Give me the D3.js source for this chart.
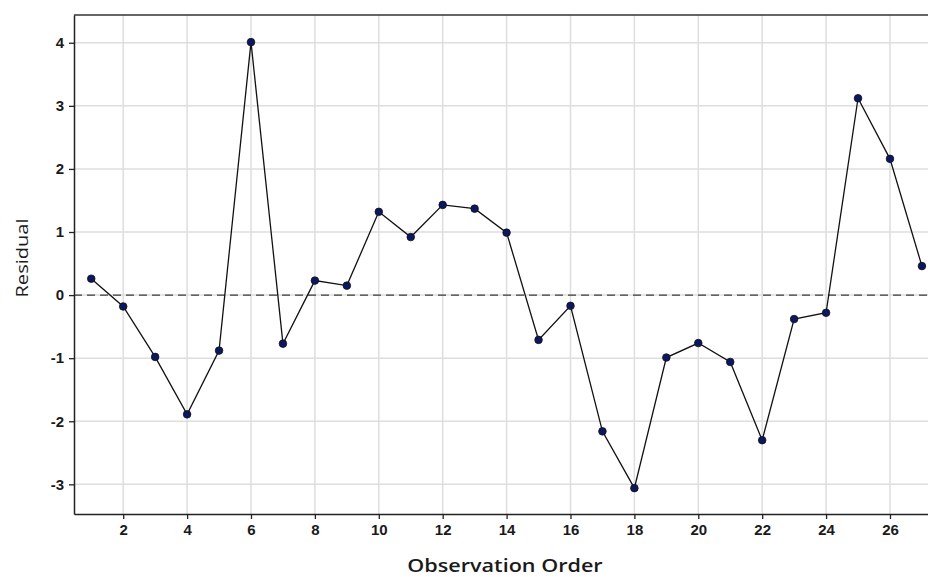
<!DOCTYPE html>
<html>
<head>
<meta charset="utf-8">
<script src="https://cdn.jsdelivr.net/npm/d3@7.9.0/dist/d3.min.js"></script>
<style>
  body { margin: 0; background: #fff; }
  svg { display: block; font-family: 'Open Sans', sans-serif; }
</style>
</head>
<body>
<svg width="928" height="577"></svg>
<script>
const order = d3.range(1, 28);
const residuals = [0.26, -0.18, -0.98, -1.89, -0.88, 4.01, -0.77, 0.23, 0.15, 1.32,
  0.92, 1.43, 1.37, 0.99, -0.71, -0.17, -2.16, -3.06, -0.99, -0.76,
  -1.06, -2.30, -0.38, -0.28, 3.12, 2.16, 0.46];
const xTicks = d3.range(2, 27, 2);
const yTicks = [-3, -2, -1, 0, 1, 2, 3, 4];

const data = order.map((o, i) => ({ o, r: residuals[i] }));

const svg = d3.select('svg');
const plotL = 74, plotT = 15, plotB = 514, plotR = 928;

const x = d3.scaleLinear().domain([0.46, 27.19]).range([plotL, plotR]);
const y = d3.scaleLinear().domain([-3.47, 4.44]).range([plotB, plotT]);

// grid
svg.append('g')
  .selectAll('line')
  .data(xTicks)
  .join('line')
  .attr('x1', (d) => x(d)).attr('x2', (d) => x(d))
  .attr('y1', plotT).attr('y2', plotB)
  .attr('stroke', '#dedede').attr('stroke-width', 1.5);

svg.append('g')
  .selectAll('line')
  .data(yTicks)
  .join('line')
  .attr('x1', plotL).attr('x2', plotR)
  .attr('y1', (d) => y(d)).attr('y2', (d) => y(d))
  .attr('stroke', '#dedede').attr('stroke-width', 1.5);

// zero reference
svg.append('line')
  .attr('x1', plotL).attr('x2', plotR)
  .attr('y1', y(0)).attr('y2', y(0))
  .attr('stroke', '#3a3a3a').attr('stroke-width', 1.3)
  .attr('stroke-dasharray', '8,5');

// top frame
svg.append('line')
  .attr('x1', plotL).attr('x2', plotR)
  .attr('y1', plotT).attr('y2', plotT)
  .attr('stroke', '#333').attr('stroke-width', 1.5);

// axes
const fmt = (d) => String(d);
const xAxis = svg.append('g')
  .attr('transform', `translate(0,${plotB})`)
  .call(d3.axisBottom(x).tickValues(xTicks).tickFormat(fmt)
    .tickSizeInner(5).tickSizeOuter(0).tickPadding(5));

const yAxis = svg.append('g')
  .attr('transform', `translate(${plotL},0)`)
  .call(d3.axisLeft(y).tickValues(yTicks).tickFormat(fmt)
    .tickSizeInner(5).tickSizeOuter(0).tickPadding(5));

[xAxis, yAxis].forEach((g) => {
  g.select('.domain').attr('stroke', '#222').attr('stroke-width', 1.5);
  g.selectAll('.tick line').attr('stroke', '#222').attr('stroke-width', 1.3);
  g.selectAll('.tick text')
    .attr('fill', '#1a1a1a')
    .style('font-size', '15px')
    .style('font-weight', 600);
});

// line + points
const line = d3.line().x((d) => x(d.o)).y((d) => y(d.r));

svg.append('path')
  .datum(data)
  .attr('d', line)
  .attr('fill', 'none')
  .attr('stroke', '#111')
  .attr('stroke-width', 1.3);

svg.append('g')
  .selectAll('circle')
  .data(data)
  .join('circle')
  .attr('cx', (d) => x(d.o))
  .attr('cy', (d) => y(d.r))
  .attr('r', 3.8)
  .attr('fill', '#0b1760')
  .attr('stroke', '#111')
  .attr('stroke-width', 0.8);

// labels (stretched a little along the text, like the source)
svg.append('text')
  .attr('transform', 'translate(505,572) scale(1.2,1)')
  .attr('text-anchor', 'middle')
  .style('font-size', '18px')
  .style('font-weight', 600)
  .attr('fill', '#1a1a1a')
  .text('Observation Order');

svg.append('text')
  .attr('transform', 'translate(28,258) rotate(-90) scale(1.18,1)')
  .attr('text-anchor', 'middle')
  .style('font-size', '17px')
  .style('font-weight', 500)
  .attr('fill', '#1a1a1a')
  .text('Residual');
</script>
</body>
</html>
